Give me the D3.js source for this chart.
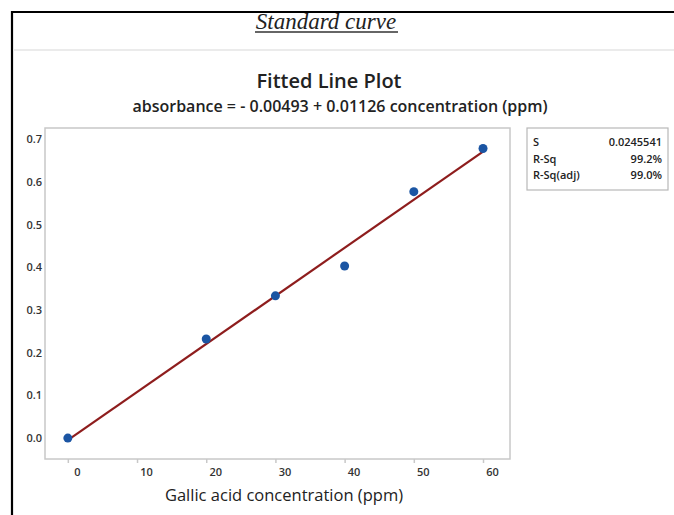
<!DOCTYPE html>
<html lang="en">
<head>
<meta charset="UTF-8">
<title>Fitted Line Plot</title>
<script src="https://d3js.org/d3.v7.min.js"></script>
<style>
  body { margin: 0; background: #fff; }
  text { font-family: "Open Sans", "Noto Sans", sans-serif; }
</style>
</head>
<body>
<script>
// data
var concentration = [0, 20, 30, 40, 50, 60];
var absorbance = [0.0, 0.232, 0.333, 0.403, 0.577, 0.678];
var xTicks = [0, 10, 20, 30, 40, 50, 60];
var yTicks = [0.0, 0.1, 0.2, 0.3, 0.4, 0.5, 0.6, 0.7];
var fitIntercept = -0.00493;
var fitSlope = 0.01126;
var statNames = ["S", "R-Sq", "R-Sq(adj)"];
var statValues = ["0.0245541", "99.2%", "99.0%"];

var width = 674, height = 515;

var svg = d3.select("body").append("svg")
    .attr("width", width)
    .attr("height", height);

// document heading, clipped by the page frame
svg.append("text")
    .attr("x", 326).attr("y", 29)
    .attr("text-anchor", "middle")
    .style("font-family", "'Liberation Serif', 'DejaVu Serif', serif")
    .style("font-style", "italic")
    .style("font-size", "23px")
    .attr("fill", "#222")
    .text("Standard curve");
svg.append("line")
    .attr("x1", 255).attr("x2", 398)
    .attr("y1", 32).attr("y2", 32)
    .attr("stroke", "#333").attr("stroke-width", 1.4);
svg.append("rect").attr("x", 0).attr("y", 0).attr("width", width).attr("height", 13).attr("fill", "#fff");

// page frame
svg.append("path")
    .attr("d", "M12,515 V12 H674")
    .attr("fill", "none").attr("stroke", "#000").attr("stroke-width", 2.2);
svg.append("line")
    .attr("x1", 13).attr("x2", width).attr("y1", 50).attr("y2", 50)
    .attr("stroke", "#ebebeb").attr("stroke-width", 2);

// titles
svg.append("text")
    .attr("x", 329).attr("y", 88)
    .attr("text-anchor", "middle")
    .style("font-size", "20px").style("font-weight", 600)
    .attr("fill", "#222")
    .text("Fitted Line Plot");
svg.append("text")
    .attr("x", 340).attr("y", 112)
    .attr("text-anchor", "middle")
    .style("font-size", "16px").style("font-weight", 600)
    .attr("fill", "#222")
    .text("absorbance = - 0.00493 + 0.01126 concentration (ppm)");

// plot area
var plotLeft = 45, plotRight = 510, plotTop = 128, plotBottom = 459;

var x = d3.scaleLinear().domain([-3.3, 63.9]).range([plotLeft, plotRight]);
var y = d3.scaleLinear().domain([-0.049, 0.726]).range([plotBottom, plotTop]);

svg.append("rect")
    .attr("x", plotLeft).attr("y", plotTop)
    .attr("width", plotRight - plotLeft).attr("height", plotBottom - plotTop)
    .attr("fill", "#fff").attr("stroke", "#c8c8c8").attr("stroke-width", 1.5);

// x axis
var xAxis = svg.append("g")
    .attr("transform", "translate(0," + plotBottom + ")")
    .call(d3.axisBottom(x).tickValues(xTicks).tickSize(4).tickPadding(5));
xAxis.select(".domain").remove();
xAxis.selectAll(".tick line").attr("stroke", "#c8c8c8").attr("stroke-width", 1.5);
xAxis.selectAll(".tick text")
    .attr("dx", 9)
    .attr("fill", "#333")
    .style("font-size", "11px").style("font-weight", 600);

// y axis
var yAxis = svg.append("g")
    .attr("transform", "translate(" + plotLeft + ",0)")
    .call(d3.axisLeft(y).tickValues(yTicks).tickSize(0).tickPadding(3).tickFormat(d3.format(".1f")));
yAxis.select(".domain").remove();
yAxis.selectAll(".tick text")
    .attr("fill", "#333")
    .style("font-size", "11px").style("font-weight", 600);

svg.append("text")
    .attr("x", 284).attr("y", 501)
    .attr("text-anchor", "middle")
    .style("font-size", "16.5px").style("font-weight", 500)
    .attr("fill", "#222")
    .text("Gallic acid concentration (ppm)");

// fitted line
var fitX = d3.extent(concentration);
svg.append("path")
    .datum(fitX)
    .attr("fill", "none")
    .attr("stroke", "#8e1d1d")
    .attr("stroke-width", 2.2)
    .attr("d", d3.line()
        .x(function(d) { return x(d); })
        .y(function(d) { return y(fitIntercept + fitSlope * d); }));

// observations
svg.selectAll("circle.obs")
    .data(concentration)
    .enter().append("circle")
    .attr("class", "obs")
    .attr("cx", function(d) { return x(d); })
    .attr("cy", function(d, i) { return y(absorbance[i]); })
    .attr("r", 4.5)
    .attr("fill", "#1b55a3");

// stats box
var box = svg.append("g").attr("transform", "translate(527,128)");
box.append("rect")
    .attr("width", 141).attr("height", 62)
    .attr("fill", "#fff").attr("stroke", "#b8b8b8").attr("stroke-width", 1.2);
box.selectAll("text.name")
    .data(statNames)
    .enter().append("text")
    .attr("x", 6)
    .attr("y", function(d, i) { return 18 + i * 16.5; })
    .style("font-size", "11px").style("font-weight", 600)
    .attr("fill", "#222")
    .text(function(d) { return d; });
box.selectAll("text.val")
    .data(statValues)
    .enter().append("text")
    .attr("x", 135)
    .attr("y", function(d, i) { return 18 + i * 16.5; })
    .attr("text-anchor", "end")
    .style("font-size", "11px").style("font-weight", 600)
    .attr("fill", "#222")
    .text(function(d) { return d; });
</script>
</body>
</html>
